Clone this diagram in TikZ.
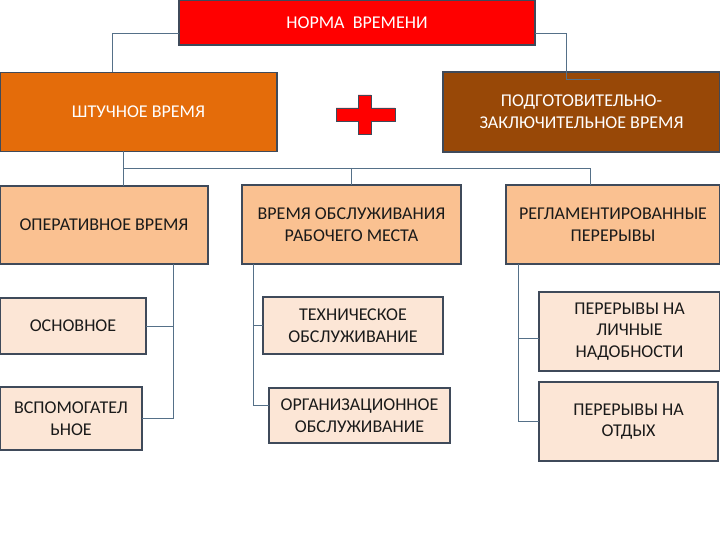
\documentclass[tikz,border=0pt]{standalone}
\usepackage{fontspec}
\setmainfont{Carlito}
\usepackage{tikz}
\usetikzlibrary{positioning}
\definecolor{normred}{HTML}{FF0000}
\definecolor{shtorange}{HTML}{E46C0A}
\definecolor{pzbrown}{HTML}{984807}
\definecolor{peach}{HTML}{FAC191}
\definecolor{pale}{HTML}{FCE6D6}
\definecolor{edgegray}{HTML}{3F4A5A}
\definecolor{wiregray}{HTML}{557088}
\definecolor{textdark}{HTML}{1A1A1A}

\begin{document}
\begin{tikzpicture}[x=1pt,y=-1pt,%
		box/.style={draw=edgegray, line width=1.4pt, outer sep=0pt,%
			inner sep=2pt, align=center, font=\fontsize{18}{21.6}\selectfont},
		headbox/.style={box, text=white},
		midbox/.style={box, fill=peach, text=textdark},
		lowbox/.style={box, fill=pale, text=textdark},
		wire/.style={draw=wiregray, line width=0.8pt}]
	\useasboundingbox (0,0) rectangle (720,540);
	% top level
	\node[headbox, fill=normred, minimum width=356pt, minimum height=45pt] (norm) at (357,22.5) {НОРМА~~ВРЕМЕНИ};
	\node[headbox, fill=shtorange, minimum width=277pt, minimum height=79pt] (sht) at (138.5,112) {ШТУЧНОЕ ВРЕМЯ};
	\node[headbox, fill=pzbrown, minimum width=277pt, minimum height=80pt] (pz) at (581.5,112) {ПОДГОТОВИТЕЛЬНО-\\ЗАКЛЮЧИТЕЛЬНОЕ ВРЕМЯ};
	% plus sign
	\draw[draw=edgegray, line width=0.6pt, fill=normred] (358,95) -- (371,95) -- (371,108) -- (395,108) -- (395,121)%
		-- (371,121) -- (371,134) -- (358,134) -- (358,121) -- (336,121) -- (336,108) -- (358,108) -- cycle;
	% second row
	\node[midbox, minimum width=208pt, minimum height=78pt] (oper) at (104,225) {ОПЕРАТИВНОЕ ВРЕМЯ};
	\node[midbox, minimum width=219pt, minimum height=79pt] (obsl) at (351.5,224.5) {ВРЕМЯ ОБСЛУЖИВАНИЯ\\РАБОЧЕГО МЕСТА};
	\node[midbox, minimum width=214pt, minimum height=79pt] (regl) at (613,224.5) {РЕГЛАМЕНТИРОВАННЫЕ\\ПЕРЕРЫВЫ};
	% third row
	\node[lowbox, minimum width=146pt, minimum height=56pt] (osn) at (73,326) {ОСНОВНОЕ};
	\node[lowbox, minimum width=142pt, minimum height=63pt] (vsp) at (71,418.5) {ВСПОМОГАТЕЛ\\ЬНОЕ};
	\node[lowbox, minimum width=180pt, minimum height=57pt] (tech) at (353,325.5) {ТЕХНИЧЕСКОЕ\\ОБСЛУЖИВАНИЕ};
	\node[lowbox, minimum width=181pt, minimum height=55pt] (org) at (359.5,415.5) {ОРГАНИЗАЦИОННОЕ\\ОБСЛУЖИВАНИЕ};
	\node[lowbox, minimum width=181pt, minimum height=79pt] (lich) at (629.5,331.5) {ПЕРЕРЫВЫ НА\\ЛИЧНЫЕ\\НАДОБНОСТИ};
	\node[lowbox, minimum width=179pt, minimum height=79pt] (otd) at (628.5,421.5) {ПЕРЕРЫВЫ НА\\ОТДЫХ};
	% connectors
	\coordinate (pzbend) at (566,79);
	\coordinate (pzend) at (600,79);
	\coordinate (bus) at (123,168);
	\coordinate (spA) at ([xshift=69pt]oper.south);
	\coordinate (spB) at ([xshift=-98.5pt]obsl.south);
	\coordinate (spC) at ([xshift=-95pt]regl.south);
	\draw[wire] ([yshift=-10.5pt]norm.west) -| ([xshift=-26.5pt]sht.north);
	\draw[wire] ([yshift=-10.5pt]norm.east) -| (pzbend) -- (pzend);
	\draw[wire] ([xshift=-15.5pt]sht.south) -- ([xshift=-15.5pt]sht.south |- oper.north);
	\draw[wire] (bus) -| ([xshift=-23pt]regl.north);
	\draw[wire] (obsl.north |- bus) -- (obsl.north);
	\draw[wire] (spA) |- (vsp.east);
	\draw[wire] (osn.east) -- (osn.east -| spA);
	\draw[wire] (spB) |- ([yshift=10.5pt]org.west);
	\draw[wire] (tech.west) -- (tech.west -| spB);
	\draw[wire] (spC) |- (otd.west);
	\draw[wire] ([yshift=-6.5pt]lich.west) -- ([yshift=-6.5pt]lich.west -| spC);
\end{tikzpicture}
\end{document}
